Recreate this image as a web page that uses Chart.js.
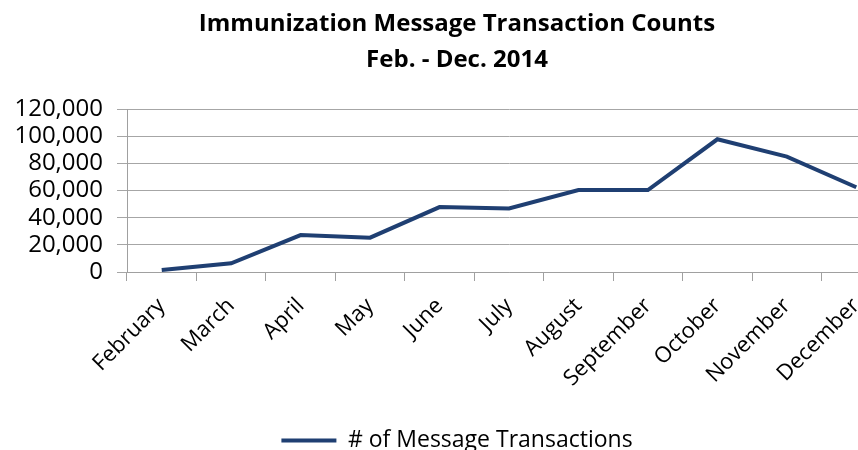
<!DOCTYPE html>
<html>
<head>
<meta charset="utf-8">
<script src="https://cdn.jsdelivr.net/npm/chart.js@4.4.1/dist/chart.umd.min.js"></script>
<style>
  html, body { margin: 0; padding: 0; background: #fff; overflow: hidden; }
  #wrap { width: 858px; height: 450px; overflow: hidden; }
  #box { width: 914px; height: 450px; }
</style>
</head>
<body>
<div id="wrap"><div id="box"><canvas id="chart"></canvas></div></div>
<script>
const months = ["February", "March", "April", "May", "June", "July",
  "August", "September", "October", "November", "December"];
const transactions = [1500, 6400, 27200, 25300, 47800, 46800,
  60300, 60300, 97700, 84900, 62400];
const titleLines = ["Immunization Message Transaction Counts", "Feb. - Dec. 2014"];
const seriesName = "# of Message Transactions";

const FONT = "'Open Sans', 'Noto Sans', sans-serif";
const lineColor = "#1F3F72";

const ctx = document.getElementById("chart").getContext("2d");

new Chart(ctx, {
  type: "line",
  data: {
    labels: months,
    datasets: [
      {
        label: seriesName,
        data: transactions,
        borderColor: lineColor,
        backgroundColor: lineColor,
        borderWidth: 4,
        pointRadius: 0,
        tension: 0,
      },
    ],
  },
  options: {
    responsive: true,
    maintainAspectRatio: false,
    animation: false,
    layout: { padding: { left: 0, right: 0, top: 6, bottom: -12 } },
    plugins: {
      title: {
        display: true,
        text: titleLines,
        color: "#000",
        font: { family: FONT, size: 24, weight: "bold", lineHeight: 1.5 },
        padding: { top: 0, bottom: 31 },
      },
      legend: {
        position: "bottom",
        labels: {
          color: "#000",
          font: { family: FONT, size: 23 },
          usePointStyle: true,
          pointStyle: "line",
          pointStyleWidth: 55,
          padding: 0,
        },
      },
      tooltip: { enabled: false },
    },
    scales: {
      x: {
        offset: true,
        grid: {
          offset: true,
          drawOnChartArea: false,
          color: "#A0A0A0",
          tickLength: 9,
        },
        border: { color: "#A0A0A0", width: 1 },
        ticks: {
          color: "#000",
          font: { family: FONT, size: 22 },
          minRotation: 45,
          maxRotation: 45,
          padding: 12,
          autoSkip: false,
        },
        afterFit: (scale) => {
          scale.height = 157;
        },
      },
      y: {
        min: 0,
        max: 120000,
        grid: { color: "#A6A6A6", tickLength: 10 },
        border: { color: "#A0A0A0", width: 1 },
        ticks: {
          stepSize: 20000,
          autoSkip: false,
          color: "#000",
          font: { family: FONT, size: 24 },
          padding: 14,
          callback: (v) => v.toLocaleString("en-US"),
        },
        afterFit: (scale) => {
          scale.width = 127;
        },
      },
      // empty right-hand axis, only keeps a margin right of the plot
      yRight: {
        axis: "y",
        position: "right",
        grid: { display: false },
        border: { display: false },
        ticks: { display: false },
        afterFit: (scale) => {
          scale.width = 23;
        },
      },
    },
  },
});
</script>
</body>
</html>
